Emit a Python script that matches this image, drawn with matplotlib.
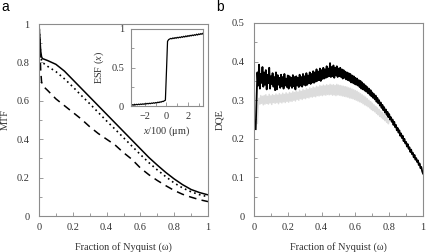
import numpy as np
import matplotlib
matplotlib.use("Agg")
import matplotlib.pyplot as plt

# ---------------- data ----------------
mtf_x = [0.0, 0.005, 0.01, 0.015, 0.02, 0.05, 0.1, 0.15, 0.2, 0.25, 0.3, 0.35, 0.4,
         0.45, 0.5, 0.55, 0.6, 0.65, 0.7, 0.75, 0.8, 0.85, 0.9, 0.95, 1.0]
mtf_solid = [1.0, 0.93, 0.86, 0.83, 0.82, 0.81, 0.79, 0.755, 0.71, 0.665, 0.62, 0.575, 0.53,
             0.485, 0.44, 0.395, 0.35, 0.305, 0.265, 0.227, 0.193, 0.163, 0.138, 0.122, 0.11]
mtf_dotted = [1.0, 0.92, 0.84, 0.81, 0.80, 0.78, 0.752, 0.715, 0.673, 0.628, 0.585, 0.54, 0.495,
              0.452, 0.408, 0.364, 0.32, 0.278, 0.24, 0.205, 0.172, 0.146, 0.126, 0.111, 0.10]
mtf_dashed = [1.0, 0.88, 0.76, 0.70, 0.68, 0.655, 0.61, 0.575, 0.54, 0.505, 0.465, 0.43, 0.40,
              0.37, 0.33, 0.295, 0.25, 0.215, 0.185, 0.158, 0.133, 0.113, 0.098, 0.085, 0.075]

esf_x = np.round(np.arange(-3.3, 3.45, 0.1), 2)
esf_y = [0.012, 0.018, 0.010, 0.020, 0.014, 0.022, 0.016, 0.024, 0.018, 0.026,
         0.020, 0.028, 0.022, 0.030, 0.026, 0.034, 0.028, 0.036, 0.030, 0.038,
         0.034, 0.042, 0.036, 0.045, 0.040, 0.050, 0.044, 0.054, 0.050, 0.060,
         0.058, 0.068, 0.075,
         0.45,
         0.84, 0.862, 0.87,
         0.878, 0.872, 0.884, 0.876, 0.888, 0.880, 0.892, 0.884, 0.895, 0.888,
         0.900, 0.892, 0.905, 0.896, 0.910, 0.900, 0.914, 0.905, 0.918, 0.910,
         0.922, 0.914, 0.926, 0.918, 0.932, 0.922, 0.936, 0.928, 0.940, 0.932,
         0.945]

dqe_black_x = np.round(np.arange(0.01, 1.0001, 0.005), 3)
dqe_black = [0.225, 0.300, 0.372, 0.338, 0.392, 0.330, 0.368, 0.345, 0.386, 0.335,
             0.372, 0.340, 0.378, 0.328, 0.366, 0.344, 0.384, 0.330, 0.362, 0.342,
             0.370, 0.335, 0.360, 0.326, 0.372, 0.328, 0.365, 0.340, 0.358, 0.332,
             0.366, 0.336, 0.360, 0.330, 0.368, 0.338, 0.356, 0.334, 0.364, 0.330,
             0.362, 0.337, 0.358, 0.332, 0.365, 0.336, 0.360, 0.328, 0.362, 0.338,
             0.358, 0.334, 0.366, 0.338, 0.360, 0.335, 0.368, 0.340, 0.362, 0.338,
             0.370, 0.340, 0.364, 0.344, 0.372, 0.342, 0.368, 0.346, 0.375, 0.345,
             0.372, 0.348, 0.380, 0.350, 0.374, 0.352, 0.382, 0.350, 0.378, 0.355,
             0.384, 0.356, 0.380, 0.358, 0.388, 0.360, 0.382, 0.362, 0.396, 0.360,
             0.386, 0.362, 0.390, 0.358, 0.384, 0.364, 0.388, 0.360, 0.382, 0.362,
             0.384, 0.360, 0.380, 0.356, 0.378, 0.358, 0.374, 0.354, 0.372, 0.352,
             0.370, 0.350, 0.368, 0.346, 0.364, 0.345, 0.362, 0.342, 0.358, 0.340,
             0.356, 0.338, 0.352, 0.334, 0.350, 0.330, 0.346, 0.328, 0.342, 0.325,
             0.338, 0.322, 0.334, 0.318, 0.330, 0.314, 0.326, 0.310, 0.320, 0.306,
             0.316, 0.302, 0.312, 0.296, 0.306, 0.292, 0.300, 0.286, 0.294, 0.280,
             0.288, 0.274, 0.282, 0.268, 0.276, 0.262, 0.270, 0.256, 0.264, 0.250,
             0.256, 0.244, 0.250, 0.236, 0.244, 0.230, 0.236, 0.222, 0.228, 0.216,
             0.222, 0.208, 0.214, 0.202, 0.208, 0.194, 0.200, 0.188, 0.192, 0.180,
             0.186, 0.174, 0.178, 0.166, 0.172, 0.160, 0.164, 0.152, 0.158, 0.146,
             0.150, 0.140, 0.144, 0.132, 0.136, 0.124, 0.127, 0.116, 0.110]

dqe_gray_x = np.round(np.arange(0.02, 0.8001, 0.005), 3)
dqe_gray = [0.240, 0.285, 0.305, 0.290, 0.312, 0.292, 0.310, 0.288, 0.312, 0.290,
            0.314, 0.292, 0.310, 0.290, 0.315, 0.293, 0.311, 0.289, 0.314, 0.294,
            0.312, 0.292, 0.316, 0.294, 0.313, 0.291, 0.317, 0.295, 0.314, 0.293,
            0.318, 0.296, 0.315, 0.294, 0.319, 0.297, 0.316, 0.295, 0.320, 0.298,
            0.318, 0.297, 0.322, 0.300, 0.320, 0.298, 0.324, 0.302, 0.321, 0.300,
            0.326, 0.304, 0.323, 0.302, 0.328, 0.305, 0.325, 0.304, 0.330, 0.307,
            0.328, 0.306, 0.332, 0.309, 0.330, 0.308, 0.334, 0.310, 0.332, 0.309,
            0.336, 0.312, 0.334, 0.311, 0.338, 0.313, 0.336, 0.312, 0.339, 0.314,
            0.337, 0.313, 0.340, 0.315, 0.338, 0.314, 0.341, 0.315, 0.339, 0.313,
            0.340, 0.314, 0.338, 0.312, 0.341, 0.314, 0.339, 0.313, 0.338, 0.312,
            0.337, 0.311, 0.336, 0.310, 0.335, 0.309, 0.334, 0.308, 0.332, 0.306,
            0.331, 0.305, 0.329, 0.304, 0.327, 0.302, 0.325, 0.300, 0.323, 0.298,
            0.320, 0.296, 0.317, 0.294, 0.314, 0.291, 0.311, 0.288, 0.308, 0.286,
            0.304, 0.283, 0.300, 0.280, 0.296, 0.276, 0.292, 0.273, 0.288, 0.270,
            0.284, 0.266, 0.280, 0.262, 0.276, 0.258, 0.272, 0.255, 0.268, 0.251,
            0.263, 0.247, 0.258, 0.243, 0.254, 0.239, 0.248]

x_ticks = [0, 0.2, 0.4, 0.6, 0.8, 1]
x_ticklabels = ["0", "0.2", "0.4", "0.6", "0.8", "1"]
mtf_yticks = [0, 0.2, 0.4, 0.6, 0.8, 1]
mtf_yticklabels = ["0", "0.2", "0.4", "0.6", "0.8", "1"]
dqe_yticks = [0, 0.1, 0.2, 0.3, 0.4, 0.5]
dqe_yticklabels = ["0", "0.1", "0.2", "0.3", "0.4", "0.5"]
esf_xticks = [-2, 0, 2]
esf_xticklabels = ["\u22122", "0", "2"]
esf_yticks = [0, 0.5, 1]
esf_yticklabels = ["0", "0.5", "1"]

# ---------------- style ----------------
SERIF = ["Liberation Serif", "DejaVu Serif"]
plt.rcParams['font.family'] = SERIF
plt.rcParams['mathtext.fontset'] = 'custom'
plt.rcParams['mathtext.it'] = 'Liberation Serif:italic'
plt.rcParams['mathtext.rm'] = 'Liberation Serif'
FS = 7.4
SPINE = "#8c8c8c"


def style_axes(ax, xpad=5, ypad=7):
    for s in ax.spines.values():
        s.set_color(SPINE)
        s.set_linewidth(0.8)
    ax.tick_params(which='both', direction='in', color=SPINE, labelsize=FS,
                   top=False, right=False, width=0.6, labelcolor='#333333')
    ax.tick_params(axis='x', which='major', pad=xpad)
    ax.tick_params(axis='y', which='major', pad=ypad)
    ax.tick_params(which='major', length=3)
    ax.tick_params(which='minor', length=2)


fig = plt.figure(figsize=(4.26, 2.52), dpi=100)

# ---- panel a ----
axa = fig.add_axes([39 / 426, 1 - 216 / 252, 169 / 426, 192 / 252])
axa.plot(mtf_x, mtf_solid, color='black', lw=1.1, solid_capstyle='butt')
axa.plot(mtf_x, mtf_dotted, color='black', lw=1.2, linestyle=(0, (1, 2)))
axa.plot(mtf_x, mtf_dashed, color='black', lw=1.1, linestyle=(0, (5, 3.5)))
axa.set_xlim(0, 1)
axa.set_ylim(0, 1)
axa.set_xticks(x_ticks)
axa.set_xticklabels(x_ticklabels)
axa.set_yticks(mtf_yticks)
axa.set_yticklabels(mtf_yticklabels)
axa.set_xticks(np.arange(0.1, 1.0, 0.2), minor=True)
axa.set_yticks(np.arange(0.1, 1.0, 0.2), minor=True)
style_axes(axa)
axa.set_xlabel("Fraction of Nyquist (ω)", fontsize=FS, labelpad=7, color='#333333')
axa.set_ylabel("MTF", fontsize=FS, labelpad=5, color='#333333')

# ---- inset ----
axi = fig.add_axes([131 / 426, 1 - 106 / 252, 72 / 426, 77 / 252])
axi.plot(esf_x, esf_y, color='black', lw=0.9)
axi.set_xlim(-3.3, 3.4)
axi.set_ylim(0, 1)
axi.set_xticks(esf_xticks)
axi.set_xticklabels(esf_xticklabels)
axi.set_yticks(esf_yticks)
axi.set_yticklabels(esf_yticklabels)
axi.set_xticks([-3, -1, 1, 3], minor=True)
axi.set_yticks([0.25, 0.75], minor=True)
style_axes(axi, xpad=4, ypad=5)
axi.set_ylabel(r"ESF ($\mathit{x}$)", fontsize=FS, labelpad=4, color='#333333')
axi.set_xlabel(r"$\mathit{x}$/100 (μm)", fontsize=FS, labelpad=3, color='#333333')

# ---- panel b ----
axb = fig.add_axes([254 / 426, 1 - 216 / 252, 169 / 426, 193 / 252])
axb.plot(dqe_gray_x, dqe_gray, color='#dcdcdc', lw=1.1)
axb.plot(dqe_black_x, dqe_black, color='black', lw=1.3)
axb.set_xlim(0, 1)
axb.set_ylim(0, 0.5)
axb.set_xticks(x_ticks)
axb.set_xticklabels(x_ticklabels)
axb.set_yticks(dqe_yticks)
axb.set_yticklabels(dqe_yticklabels)
axb.set_xticks(np.arange(0.1, 1.0, 0.2), minor=True)
axb.set_yticks(np.arange(0.05, 0.5, 0.1), minor=True)
style_axes(axb)
axb.set_xlabel("Fraction of Nyquist (ω)", fontsize=FS, labelpad=7, color='#333333')
axb.set_ylabel("DQE", fontsize=FS, labelpad=5, color='#333333')

fig.text(1 / 426, 1 - 11 / 252, "a", fontsize=10, family=["Liberation Sans", "DejaVu Sans"])
fig.text(216 / 426, 1 - 11 / 252, "b", fontsize=10, family=["Liberation Sans", "DejaVu Sans"])

fig.savefig("out.png", dpi=100)
